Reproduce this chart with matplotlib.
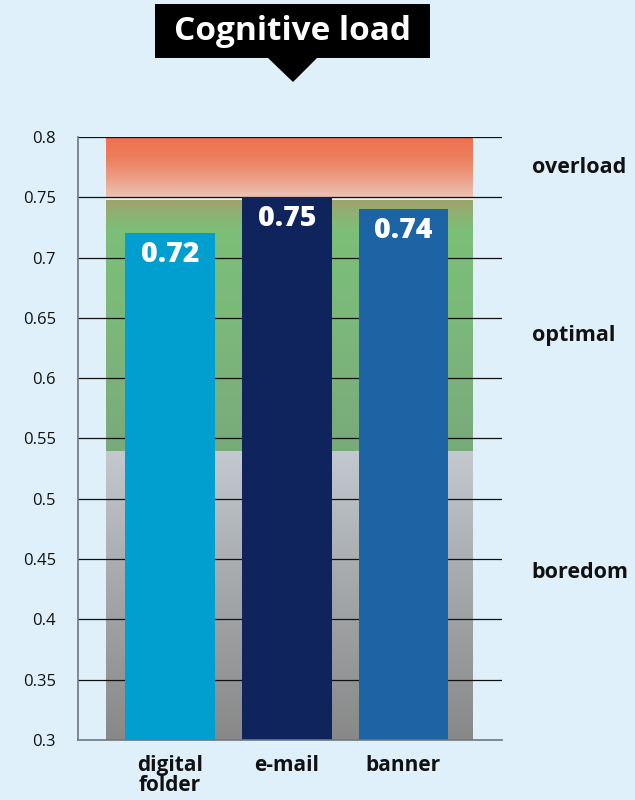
import matplotlib
matplotlib.use("Agg")
import matplotlib.pyplot as plt
import numpy as np
from matplotlib.colors import LinearSegmentedColormap
from matplotlib.patches import Rectangle, Polygon

plt.rcParams['font.family'] = ['Open Sans', 'DejaVu Sans']

# Data
categories = ["digital\nfolder", "e-mail", "banner"]
values = [0.72, 0.75, 0.74]
bar_colors = ["#009fcf", "#0f245c", "#1c64a3"]
yticks = [0.3, 0.35, 0.4, 0.45, 0.5, 0.55, 0.6, 0.65, 0.7, 0.75, 0.8]
ytick_labels = ["0.3", "0.35", "0.4", "0.45", "0.5", "0.55", "0.6", "0.65", "0.7", "0.75", "0.8"]
zones = ["boredom", "optimal", "overload"]
zone_bounds = [(0.3, 0.54), (0.54, 0.748), (0.75, 0.8)]
zone_label_y = [0.4385, 0.635, 0.775]

BG = "#dff0fa"

fig = plt.figure(figsize=(6.35, 8.0), dpi=100, facecolor=BG)
ax = fig.add_axes([78 / 635, 60 / 800, (502 - 78) / 635, (740 - 137) / 800])
ax.set_facecolor(BG)

x = np.arange(len(categories))

# Zone backgrounds as vertical gradients
band_x0, band_x1 = -0.548, 2.597
zone_cmaps = [
    LinearSegmentedColormap.from_list("bore", [(0, "#888888"), (0.5, "#a3a6a8"), (1, "#c3c9cf")]),
    LinearSegmentedColormap.from_list("opt", [(0, "#79aa7b"), (0.5, "#7cb87a"), (0.88, "#7bbf78"),
                                              (0.95, "#8fb072"), (1, "#9fa36a")]),
    LinearSegmentedColormap.from_list("over", [(0, "#ebc3b6"), (0.3, "#eb9f86"), (0.65, "#ed7d5c"),
                                               (1, "#ee7050")]),
]
grad = np.linspace(0, 1, 256).reshape(-1, 1)
for (lo, hi), cm in zip(zone_bounds, zone_cmaps):
    ax.imshow(grad, cmap=cm, aspect="auto", origin="lower",
              extent=[band_x0, band_x1, lo, hi], zorder=0.5, interpolation="bilinear")

# Gridlines
for yv in yticks[1:]:
    ax.axhline(yv, color="#111111", lw=0.9, zorder=1)

# Bars
ax.bar(x, values, width=0.77, color=bar_colors, zorder=2)
ax.set_xlim(-0.79, 2.845)
ax.set_ylim(0.3, 0.8)
for xi, v in zip(x, values):
    ax.annotate(f"{v:.2f}", (xi, v), xytext=(0, -5), textcoords="offset points",
                ha="center", va="top", color="white", fontsize=20.5, fontweight="heavy", zorder=3)

# Axes styling
for s in ["top", "right"]:
    ax.spines[s].set_visible(False)
for s in ["left", "bottom"]:
    ax.spines[s].set_color("#6e7780")
    ax.spines[s].set_linewidth(1.2)
    ax.spines[s].set_zorder(4)
ax.set_yticks(yticks)
ax.set_yticklabels(ytick_labels, fontsize=12, color="#111111")
ax.set_xticks(x)
ax.set_xticklabels(categories, fontsize=15, fontweight="bold", color="#111111", linespacing=0.95)
ax.tick_params(axis="both", length=0)
ax.tick_params(axis="y", pad=16)
ax.tick_params(axis="x", pad=11)

# Zone names to the right
for name, yl in zip(zones, zone_label_y):
    ax.text(3.1, yl, name, ha="left", va="center",
            fontsize=15.5, fontweight="bold", color="#111111")

# Title callout
fig.add_artist(Rectangle((155 / 635, 1 - 58 / 800), 275 / 635, 54 / 800,
                         transform=fig.transFigure, facecolor="black", edgecolor="none"))
fig.add_artist(Polygon([(267 / 635, 1 - 57 / 800), (318 / 635, 1 - 57 / 800), (293 / 635, 1 - 82 / 800)],
                       closed=True, transform=fig.transFigure, facecolor="black", edgecolor="none"))
fig.text(293 / 635, 1 - 32 / 800, "Cognitive load", ha="center", va="center",
         color="white", fontsize=24, fontweight="bold")

fig.savefig("out.png", dpi=100, facecolor=BG)
